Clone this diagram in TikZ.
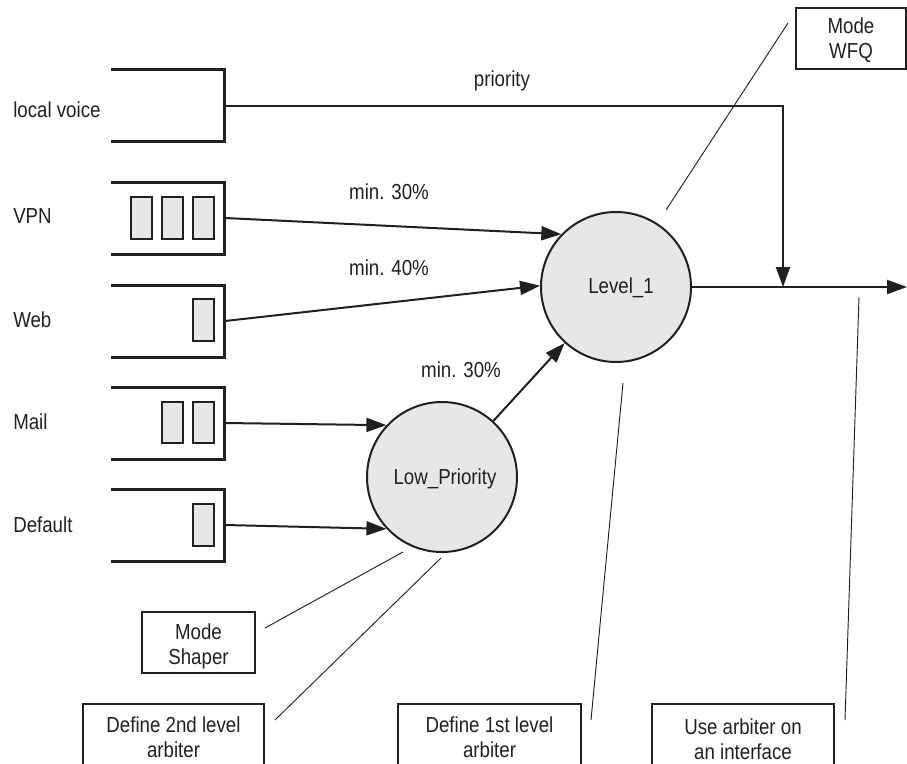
\documentclass[tikz,border=0pt]{standalone}
\usepackage{fontspec}
\setmainfont{Liberation Sans}[FakeStretch=0.86]
\usetikzlibrary{arrows.meta}
\definecolor{qgray}{RGB}{230,231,233}
\definecolor{ink}{RGB}{35,31,32}
\tikzset{
  queue/.style={draw=ink, line width=2.25pt, line join=miter},
  qitem/.style={draw=ink, fill=qgray, line width=1.1pt},
  arb/.style={circle, draw=ink, fill=qgray, line width=1.5pt, minimum size=112.5pt, inner sep=0pt},
  flow/.style={draw=ink, line width=1.5pt, -{Triangle[length=15pt,width=10.5pt]}},
  note/.style={draw=ink, line width=0.7pt},
  notebox/.style={draw=ink, line width=0.9pt, inner sep=0pt},
  lbl/.style={inner sep=0pt, text=ink, anchor=base west},
  txt/.style={inner sep=0pt, text=ink, align=center}
}
\begin{document}
\begin{tikzpicture}[x=0.75pt,y=-0.75pt,font=\fontsize{16.3}{18.75}\selectfont]
\useasboundingbox (0,0) rectangle (907,764);

% queues
\foreach \t in {69,182,285,387,489}
  \draw[queue] (111,\t) -- (224,\t) -- (224,\t+72) -- (111,\t+72);

% queue labels
\node[lbl] (tlv) at (13,117) {local voice};
\node[lbl] (tvpn) at (13,223) {VPN};
\node[lbl] (tweb) at (13,327) {Web};
\node[lbl] (tmail) at (13,429) {Mail};
\node[lbl] (tdef) at (13,532) {Default};

% packets
\draw[qitem] (131,197) rectangle (152,239);
\draw[qitem] (162,197) rectangle (183,239);
\draw[qitem] (193,197) rectangle (214,239);
\draw[qitem] (193,299) rectangle (214,341);
\draw[qitem] (162,402) rectangle (183,443);
\draw[qitem] (193,402) rectangle (214,443);
\draw[qitem] (193,504) rectangle (214,546);

% arbiters
\node[arb] (L1) at (616,287) {};
\node[arb] (LP) at (442,477) {};
\node[txt] (tL1) at (621,288) {Level\_1};
\node[txt] (tLP) at (445,479) {Low\_Priority};

% queue outputs
\coordinate (qv) at (225,106);
\coordinate (qvpn) at (225,218);
\coordinate (qweb) at (225,321);
\coordinate (qmail) at (225,423);
\coordinate (qdef) at (225,525);
\coordinate (pj) at (783,287);
\coordinate (out) at (907,287);

\draw[flow] (qvpn) -- (L1.136);
\draw[flow] (qweb) -- (L1.179);
\draw[flow] (qmail) -- (LP.137);
\draw[flow] (qdef) -- (LP.223);
\draw[flow] (LP) -- (L1);
\draw[flow] (L1.east) -- (out);
\draw[flow] (qv) -| (pj);

% flow labels
\node[txt] (tprio) at (502,81) {priority};
\node[txt] (tm1) at (389,192) {min. 30\%};
\node[txt] (tm2) at (389,268) {min. 40\%};
\node[txt] (tm3) at (461,370) {min. 30\%};

% note boxes
\node[notebox, minimum width=82.5pt, minimum height=45.75pt] (wfq) at (851,38.5) {};
\node[txt] (twfq) at (851,40) {Mode\\WFQ};
\node[notebox, minimum width=84.75pt, minimum height=45.75pt] (shp) at (198.5,642.5) {};
\node[txt] (tshp) at (198.5,646) {Mode\\Shaper};
\draw[note, line width=0.9pt] (83,780) |- (264,704) -- (264,780);
\draw[note, line width=0.9pt] (398,780) |- (581,704) -- (581,780);
\draw[note, line width=0.9pt] (652,780) |- (834,704) -- (834,780);
\node[txt] (d2) at (173.5,737) {Define 2nd level\\arbiter};
\node[txt] (d1) at (489.5,737) {Define 1st level\\arbiter};
\node[txt] (ua) at (743,739) {Use arbiter on\\an interface};

% annotation lines
\coordinate (a1s) at (788,23);  \coordinate (a1e) at (666,210);
\coordinate (a2s) at (265,628); \coordinate (a2e) at (403,552);
\coordinate (a3s) at (275,720); \coordinate (a3e) at (441,558);
\coordinate (a4s) at (591,720); \coordinate (a4e) at (623,383);
\coordinate (a5s) at (845,720); \coordinate (a5e) at (859,297);
\draw[note] (a1s) -- (a1e);
\draw[note] (a2s) -- (a2e);
\draw[note] (a3s) -- (a3e);
\draw[note] (a4s) -- (a4e);
\draw[note] (a5s) -- (a5e);
\end{tikzpicture}
\end{document}
